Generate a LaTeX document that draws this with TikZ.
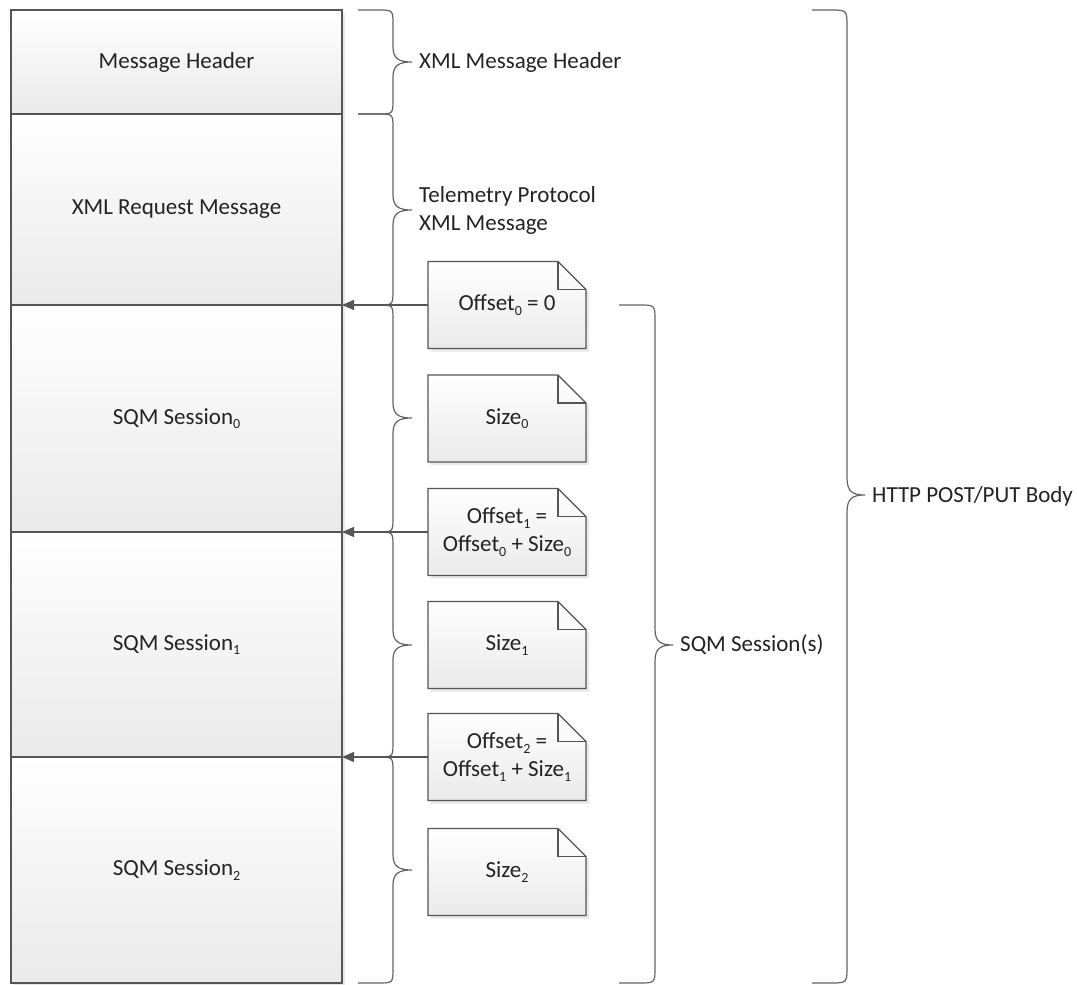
\documentclass[tikz,border=0pt]{standalone}
\usepackage{fontspec}
\setmainfont{Carlito}
\usetikzlibrary{arrows.meta,shadows}
\pgfdeclarelayer{bg}
\pgfdeclarelayer{canvas}
\pgfsetlayers{canvas,bg,main}
\definecolor{linec}{RGB}{85,85,85}
\definecolor{bracec}{RGB}{100,100,100}
\definecolor{boxbot}{RGB}{234,234,234}
\definecolor{txtc}{RGB}{35,35,35}
\newcommand\sbs[1]{\raisebox{-0.2em}{\fontsize{14}{14}\selectfont #1}}
% x0, xv, yt, ym, yb, r, d
\newcommand\vbr[7]{%
  \draw[bracestyle] (#1,#3) -- ({#2-#6},#3) .. controls (#2,#3) .. (#2,{#3+#6})
    -- (#2,{#4-#6}) .. controls (#2,{#4-3}) and ({#2+#7/3},#4) .. ({#2+#7},#4)
    .. controls ({#2+#7/3},#4) and (#2,{#4+3}) .. (#2,{#4+#6})
    -- (#2,{#5-#6}) .. controls (#2,#5) .. ({#2-#6},#5) -- (#1,#5);}
\newcommand\notebox[4]{%
  \node[notetext] (#1) at (#2,#3) {#4};
  \begin{pgfonlayer}{bg}
  \path[notefill] (#1.north west) -- ([xshift=-28pt]#1.north east) -- ([yshift=-28pt]#1.north east)
     -- (#1.south east) -- (#1.south west) -- cycle;
  \draw[linec, line width=1.2pt, line join=miter] ([xshift=-28pt]#1.north east) -- ([xshift=-28pt,yshift=-28pt]#1.north east) -- ([yshift=-28pt]#1.north east);
  \end{pgfonlayer}}
\begin{document}
\begin{tikzpicture}[x=1pt,y=-1pt,
  every node/.style={font=\fontsize{23}{28}\selectfont, text=txtc},
  mainbox/.style={draw=linec, line width=1.3pt, top color=white, bottom color=boxbot,
     minimum width=331pt, inner sep=0pt, outer sep=0pt,
     drop shadow={shadow xshift=3pt, shadow yshift=-3pt, opacity=0.18, fill=gray}},
  notetext/.style={minimum width=158pt, minimum height=87pt, inner sep=0pt, outer sep=0pt, align=center},
  notefill/.style={draw=linec, line width=1.3pt, top color=white, bottom color=boxbot,
     drop shadow={shadow xshift=3pt, shadow yshift=-3pt, opacity=0.18, fill=gray}},
  bracestyle/.style={draw=bracec, line width=1.2pt},
  arr/.style={draw=linec, line width=1.3pt, -{Triangle[length=12pt, width=10pt]}},
  lbl/.style={anchor=west, align=left, inner sep=0pt}]
\useasboundingbox (0,0) rectangle (1077,985);
\begin{pgfonlayer}{canvas}
\fill[white] (0,0) rectangle (1077,985);
\end{pgfonlayer}

% left stack
\node[mainbox, minimum height=104pt] (hdr) at (176.5,62) {Message Header};
\node[mainbox, minimum height=191pt] (req) at (176.5,209.5) {XML Request Message};
\node[mainbox, minimum height=227pt] (s0) at (176.5,418.5) {SQM Session\sbs{0}};
\node[mainbox, minimum height=225pt] (s1) at (176.5,644.5) {SQM Session\sbs{1}};
\node[mainbox, minimum height=226pt] (s2) at (176.5,870) {SQM Session\sbs{2}};

% small braces
\vbr{358}{393}{10}{62}{114}{15}{19}
\vbr{358}{393}{114}{210}{305}{15}{19}
\vbr{358}{393}{305}{418}{532}{15}{19}
\vbr{358}{393}{532}{645}{757}{15}{19}
\vbr{358}{393}{757}{870}{983}{15}{19}
% big braces
\vbr{619}{655}{305}{645}{983}{16}{18}
\vbr{812}{847}{10}{495}{983}{17}{18}

% notes
\notebox{off0}{507}{305}{Offset\sbs{0} = 0}
\notebox{sz0}{507}{418.5}{Size\sbs{0}}
\notebox{off1}{507}{532}{Offset\sbs{1} =\\Offset\sbs{0} + Size\sbs{0}}
\notebox{sz1}{507}{645}{Size\sbs{1}}
\notebox{off2}{507}{757}{Offset\sbs{2} =\\Offset\sbs{1} + Size\sbs{1}}
\notebox{sz2}{507}{872}{Size\sbs{2}}

% arrows
\draw[arr] (off0.west) -- (off0.west -| req.east);
\draw[arr] (off1.west) -- (off1.west -| s0.east);
\draw[arr] (off2.west) -- (off2.west -| s1.east);

% labels
\node[lbl] (lhdr) at (419,62) {XML Message Header};
\node[lbl] (ltel) at (419,210) {Telemetry Protocol\\XML Message};
\node[lbl] (lsqm) at (680,645) {SQM Session(s)};
\node[lbl] (lhttp) at (872,496) {HTTP POST/PUT Body};
\end{tikzpicture}
\end{document}
